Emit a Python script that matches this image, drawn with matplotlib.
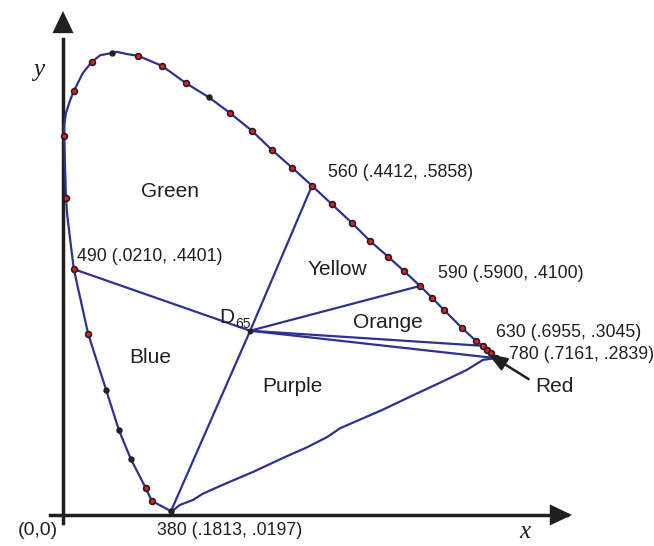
import matplotlib.pyplot as plt

plt.rcParams['font.family'] = ['Liberation Sans', 'DejaVu Sans']

# spectral locus (380 nm -> 780 nm)
locus_x = [0.180, 0.148, 0.138, 0.113, 0.093, 0.072, 0.042, 0.018, 0.012, 0.007,
           0.005, 0.003, 0.002, 0.002, 0.005, 0.012, 0.018, 0.033, 0.048, 0.062,
           0.082, 0.090, 0.107, 0.125, 0.145, 0.165, 0.205, 0.243, 0.278, 0.315,
           0.348, 0.382, 0.415, 0.448, 0.482, 0.512, 0.542, 0.568, 0.595, 0.615,
           0.635, 0.665, 0.688, 0.700, 0.707, 0.713, 0.722]
locus_y = [0.007, 0.025, 0.048, 0.100, 0.152, 0.223, 0.323, 0.439, 0.491, 0.536,
           0.566, 0.634, 0.677, 0.696, 0.718, 0.741, 0.757, 0.789, 0.809, 0.821,
           0.825, 0.827, 0.823, 0.820, 0.811, 0.802, 0.771, 0.746, 0.718, 0.686,
           0.652, 0.620, 0.588, 0.555, 0.521, 0.489, 0.461, 0.436, 0.409, 0.388,
           0.366, 0.334, 0.311, 0.302, 0.295, 0.289, 0.280]
# which points carry a dot: 2 = red dot, 1 = black dot, 0 = none
dot_kind = [1, 2, 2, 1, 1, 1, 2, 2, 0, 0,
            2, 0, 2, 0, 0, 0, 2, 0, 2, 0,
            1, 0, 0, 2, 0, 2, 2, 1, 2, 2,
            2, 2, 2, 2, 2, 2, 2, 2, 2, 2,
            2, 2, 2, 2, 2, 2, 2]

# line of purples, 380 -> 780
purple_x = [0.182, 0.195, 0.217, 0.233, 0.273, 0.317, 0.367, 0.407, 0.440, 0.462,
            0.533, 0.578, 0.628, 0.673, 0.700, 0.722]
purple_y = [0.007, 0.018, 0.027, 0.038, 0.057, 0.077, 0.102, 0.121, 0.139, 0.155,
            0.188, 0.211, 0.236, 0.259, 0.277, 0.280]

d65 = (0.312, 0.329)
# locus indices joined to D65: 490, 560, 590, 630, 780, 380
spokes = [7, 32, 38, 43, 46, 0]
labels = ['380 (.1813, .0197)', '490 (.0210, .4401)', '560 (.4412, .5858)',
          '590 (.5900, .4100)', '630 (.6955, .3045)', '780 (.7161, .2839)']
regions = ['Green', 'Yellow', 'Orange', 'Blue', 'Purple']
region_pos = [(0.178, 0.577), (0.458, 0.4375), (0.5417, 0.343), (0.145, 0.282), (0.383, 0.2286)]

blue = '#2e3192'
ink = '#231f20'

fig = plt.figure(figsize=(6.54, 5.46), dpi=100)
ax = fig.add_axes([0, 0, 1, 1])
ax.set_xlim(-0.105, 0.985)
ax.set_ylim(-0.0554, 0.9196)
ax.axis('off')

# axes with arrows
ax.plot([0, 0], [-0.014, 0.85], color=ink, lw=2.5)
ax.plot([-0.022, 0.84], [0, 0], color=ink, lw=2.5)
ax.annotate('', xy=(0, 0.905), xytext=(0, 0.84),
            arrowprops=dict(arrowstyle='-|>,head_length=0.8,head_width=0.38',
                            color=ink, lw=0, mutation_scale=20))
ax.annotate('', xy=(0.853, 0), xytext=(0.80, 0),
            arrowprops=dict(arrowstyle='-|>,head_length=0.8,head_width=0.38',
                            color=ink, lw=0, mutation_scale=20))

ax.plot(locus_x, locus_y, color=blue, lw=1.6, zorder=3)
ax.plot(purple_x, purple_y, color=blue, lw=1.6, zorder=3)
for i in spokes:
    ax.plot([d65[0], locus_x[i]], [d65[1], locus_y[i]], color=blue, lw=1.6, zorder=3)

rx = [x for x, k in zip(locus_x, dot_kind) if k == 2]
ry = [y for y, k in zip(locus_y, dot_kind) if k == 2]
bx = [x for x, k in zip(locus_x, dot_kind) if k == 1]
by = [y for y, k in zip(locus_y, dot_kind) if k == 1]
ax.plot(rx, ry, 'o', ms=4.2, mfc='#e31e24', mec=ink, mew=1.2, zorder=4)
ax.plot(bx, by, 'o', ms=3.6, mfc=ink, mec=ink, zorder=4)
ax.plot([d65[0]], [d65[1]], 'o', ms=3.2, color=ink, zorder=4)

# arrow pointing at the red corner
ax.annotate('', xy=(0.705, 0.290), xytext=(0.78, 0.240),
            arrowprops=dict(arrowstyle='-|>,head_length=0.8,head_width=0.3',
                            color=ink, lw=1.8, mutation_scale=14), zorder=5)
ax.text(0.787, 0.230, 'Red', fontsize=15, va='center', ha='left', color=ink)

ax.text(-0.04, 0.795, 'y', fontsize=18, style='italic', family='Liberation Serif',
        ha='center', va='center', color=ink)
ax.text(0.77, -0.031, 'x', fontsize=18, style='italic', family='Liberation Serif',
        ha='center', va='center', color=ink)
ax.text(-0.042, -0.027, '(0,0)', fontsize=14, ha='center', va='center', color=ink)

lab_pos = [(0.278, -0.027, 'center'), (0.023, 0.4607, 'left'), (0.4417, 0.6107, 'left'),
           (0.625, 0.432, 'left'), (0.7217, 0.325, 'left'), (0.7433, 0.2857, 'left')]
for t, (x, y, ha) in zip(labels, lab_pos):
    ax.text(x, y, t, fontsize=12.8, ha=ha, va='center', color=ink)

for t, (x, y) in zip(regions, region_pos):
    ax.text(x, y, t, fontsize=15, ha='center', va='center', color=ink)

ax.text(0.26, 0.352, 'D', fontsize=15, ha='left', va='center', color=ink)
ax.text(0.2867, 0.341, '65', fontsize=10, ha='left', va='center', color=ink)

fig.savefig('out.png', dpi=100)
